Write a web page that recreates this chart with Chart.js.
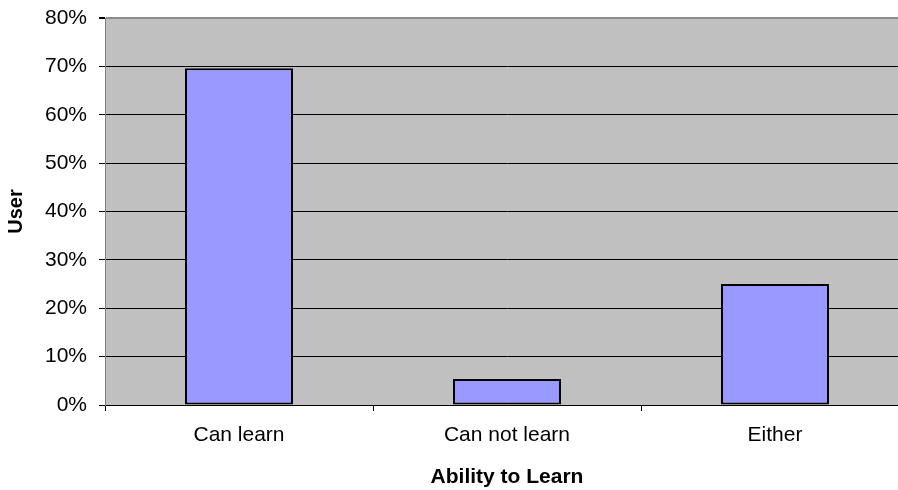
<!DOCTYPE html>
<html lang="en">
<head>
    <meta charset="UTF-8">
    <title>Ability to Learn</title>
    <script src="https://cdn.jsdelivr.net/npm/chart.js"></script>
    <style>
        html, body { margin: 0; padding: 0; background: #fff; overflow: hidden; }
        #wrap { width: 910px; height: 490px; }
    </style>
</head>
<body>
    <div id="wrap">
        <canvas id="barChart" width="910" height="490"></canvas>
    </div>

    <script>
        // data
        const categories = ["Can learn", "Can not learn", "Either"];
        const userShare = [69.6, 5.4, 25.0];
        const yTicks = [0, 10, 20, 30, 40, 50, 60, 70, 80];

        const font = "'Liberation Sans', Arial, sans-serif";

        // grey plot background like old Excel charts
        const plotBackground = {
            id: "plotBackground",
            beforeDraw(chart) {
                const { ctx, chartArea: a } = chart;
                ctx.save();
                ctx.fillStyle = "#c0c0c0";
                ctx.fillRect(a.left, a.top, a.right - a.left, a.bottom - a.top);
                ctx.restore();
            }
        };

        new Chart(document.getElementById("barChart"), {
            type: "bar",
            data: {
                labels: categories,
                datasets: [{
                    label: "User",
                    data: userShare,
                    backgroundColor: "#9999ff",
                    borderColor: "#000000",
                    borderWidth: 2,
                    borderSkipped: false,
                    categoryPercentage: 1,
                    barPercentage: 0.403
                }]
            },
            options: {
                responsive: false,
                animation: false,
                layout: { padding: { top: 18, right: 1, left: 0, bottom: 0 } },
                plugins: {
                    legend: { display: false },
                    tooltip: { enabled: false }
                },
                scales: {
                    x: {
                        afterFit: (s) => { s.height = 85; },
                        grid: {
                            offset: true,
                            drawOnChartArea: false,
                            color: "#000",
                            tickLength: 6
                        },
                        border: { color: "#000", width: 1 },
                        ticks: {
                            color: "#000",
                            padding: 12,
                            font: { family: font, size: 21 }
                        },
                        title: {
                            display: true,
                            text: "Ability to Learn",
                            color: "#000",
                            padding: { top: 0, bottom: 0 },
                            font: { family: font, size: 21, weight: "bold" }
                        }
                    },
                    y: {
                        min: 0,
                        max: 80,
                        afterFit: (s) => {
                            s.width = 105;
                            s.paddingTop = 0;
                            s.paddingBottom = 0;
                        },
                        afterBuildTicks: (s) => { s.ticks = yTicks.map(v => ({ value: v })); },
                        grid: {
                            color: (c) => (c.tick && c.tick.value === 80 ? "#8c8c8c" : "#000"),
                            lineWidth: (c) => (c.tick && c.tick.value === 80 ? 2 : 1),
                            tickColor: "#000",
                            tickLength: 6
                        },
                        border: { color: "#808080", width: 1 },
                        ticks: {
                            color: "#000",
                            padding: 12,
                            font: { family: font, size: 21 },
                            callback: (v) => v + "%"
                        },
                        title: {
                            display: true,
                            text: "User",
                            color: "#000",
                            padding: { top: 4, bottom: 4 },
                            font: { family: font, size: 20, weight: "bold" }
                        }
                    }
                }
            },
            plugins: [plotBackground]
        });
    </script>
</body>
</html>
